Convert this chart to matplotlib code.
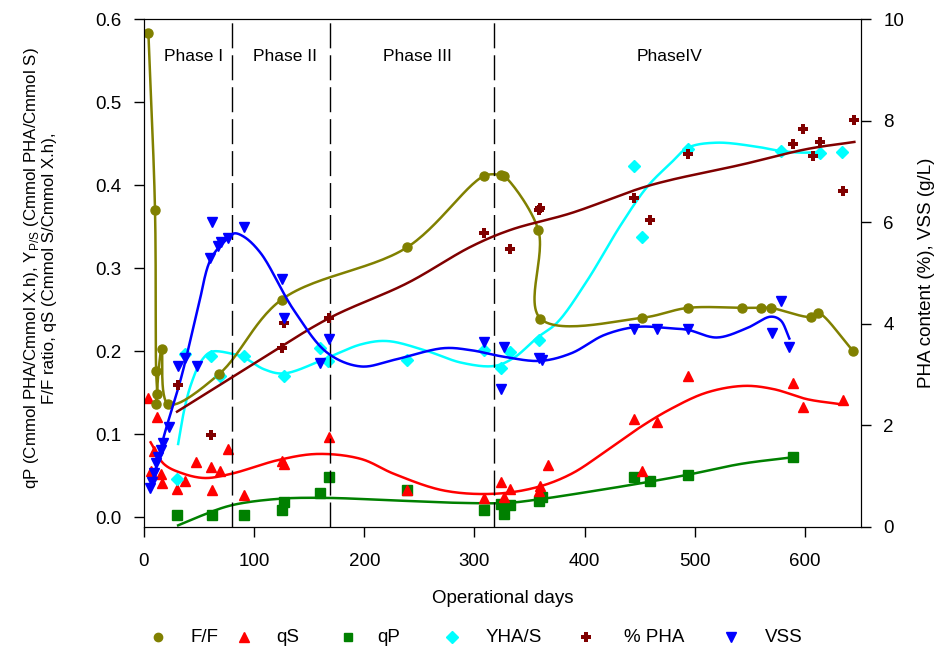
import numpy as np
import matplotlib
matplotlib.use('Agg')
import matplotlib.pyplot as plt
from matplotlib.lines import Line2D

plt.rcParams['font.family'] = ['Liberation Sans', 'DejaVu Sans']

# ---- measured data (left axis) ----
ff_days = [4, 10, 11, 12, 11, 16, 22, 68, 125, 239, 309, 324, 327, 358, 360, 452, 494, 543, 560, 569, 606, 612, 644]
ff_vals = [0.583, 0.370, 0.176, 0.148, 0.136, 0.202, 0.136, 0.172, 0.262, 0.325, 0.411, 0.412, 0.411, 0.346,
           0.239, 0.240, 0.252, 0.252, 0.252, 0.252, 0.241, 0.246, 0.200]

qs_days = [4, 6, 9, 12, 15, 16, 30, 37, 47, 61, 62, 69, 76, 91, 125, 127, 168, 239, 309, 324, 327, 332,
           359, 360, 367, 445, 452, 466, 494, 589, 598, 635]
qs_vals = [0.143, 0.056, 0.080, 0.121, 0.052, 0.041, 0.034, 0.043, 0.066, 0.060, 0.032, 0.056, 0.082, 0.026,
           0.068, 0.064, 0.097, 0.033, 0.023, 0.042, 0.024, 0.034, 0.031, 0.037, 0.063, 0.118, 0.056, 0.114,
           0.170, 0.161, 0.132, 0.141]

qp_days = [30, 62, 91, 125, 127, 160, 168, 239, 309, 324, 327, 332, 359, 361, 445, 459, 494, 589]
qp_vals = [0.002, 0.002, 0.002, 0.009, 0.018, 0.029, 0.048, 0.032, 0.008, 0.016, 0.004, 0.014, 0.019,
           0.024, 0.048, 0.043, 0.051, 0.072]

yps_days = [30, 37, 61, 69, 91, 127, 160, 167, 239, 309, 324, 332, 359, 445, 452, 494, 578, 614, 634]
yps_vals = [0.046, 0.197, 0.194, 0.170, 0.194, 0.170, 0.204, 0.188, 0.189, 0.201, 0.180, 0.199, 0.213,
            0.423, 0.337, 0.443, 0.441, 0.438, 0.440]

# ---- measured data (right axis) ----
pha_days = [31, 61, 125, 127, 168, 309, 332, 359, 360, 445, 459, 494, 589, 598, 607, 614, 635, 645]
pha_vals = [2.80, 1.81, 3.52, 4.01, 4.12, 5.79, 5.47, 6.24, 6.27, 6.48, 6.04, 7.34, 7.54, 7.83, 7.31,
            7.58, 6.61, 8.02]

vss_days = [5, 7, 9, 11, 13, 15, 17, 23, 31, 37, 48, 60, 62, 67, 70, 76, 91, 125, 127, 160, 168,
            309, 324, 327, 359, 361, 445, 466, 494, 570, 578, 586]
vss_vals = [0.76, 0.89, 1.06, 1.25, 1.38, 1.52, 1.66, 1.97, 3.16, 3.32, 3.16, 5.30, 6.00, 5.53, 5.61,
            5.68, 5.90, 4.88, 4.11, 3.22, 3.71, 3.64, 2.71, 3.54, 3.32, 3.29, 3.89, 3.89, 3.89, 3.82,
            4.45, 3.55]

# ---- trend curves ----
qs_fit_days = [6, 18, 34, 55, 79, 123, 158, 197, 227, 272, 318, 357, 388, 418, 448, 478, 511, 545, 572, 602, 632]
qs_fit_vals = [0.090, 0.064, 0.053, 0.047, 0.052, 0.069, 0.076, 0.070, 0.052, 0.032, 0.028, 0.036, 0.052,
               0.078, 0.106, 0.130, 0.150, 0.158, 0.154, 0.142, 0.136]

qp_fit_days = [31, 49, 79, 123, 167, 227, 288, 330, 357, 402, 448, 494, 542, 589]
qp_fit_vals = [-0.010, 0.000, 0.014, 0.022, 0.023, 0.020, 0.017, 0.017, 0.021, 0.030, 0.040, 0.051, 0.064, 0.072]

yps_fit_days = [31, 37, 43, 52, 61, 79, 91, 109, 127, 167, 197, 221, 257, 288, 318, 336, 357, 375, 402,
                433, 457, 478, 494, 520, 557, 578, 598, 616]
yps_fit_vals = [0.088, 0.132, 0.161, 0.188, 0.199, 0.197, 0.192, 0.178, 0.173, 0.192, 0.208, 0.212, 0.200,
                0.186, 0.182, 0.192, 0.216, 0.234, 0.284, 0.352, 0.398, 0.426, 0.445, 0.451, 0.446, 0.441,
                0.439, 0.440]

pha_fit_days = [30, 106, 168, 239, 297, 333, 388, 451, 478, 542, 602, 645]
pha_fit_vals = [2.27, 3.30, 4.11, 4.80, 5.52, 5.85, 6.18, 6.67, 6.83, 7.13, 7.44, 7.58]

vss_fit_days = [6, 18, 34, 49, 61, 76, 82, 91, 106, 136, 167, 197, 227, 272, 297, 327, 360, 388, 418,
                448, 478, 494, 520, 547, 569, 578, 586]
vss_fit_vals = [0.73, 1.78, 2.96, 4.31, 5.29, 5.68, 5.78, 5.71, 5.39, 4.27, 3.42, 3.16, 3.29, 3.52, 3.48,
                3.35, 3.27, 3.42, 3.78, 3.94, 3.91, 3.88, 3.73, 3.91, 4.14, 4.07, 3.71]

phase_bounds = [80, 169, 318]
phase_names = ['Phase I', 'Phase II', 'Phase III', 'PhaseIV']
phase_label_days = [45, 128, 248, 477]


def smooth(xs, ys, sx, sy, n=30):
    # centripetal Catmull-Rom through the given points (in pixel-like units)
    p = np.column_stack([np.asarray(xs, float) * sx, np.asarray(ys, float) * sy])
    p = np.vstack([2 * p[0] - p[1], p, 2 * p[-1] - p[-2]])
    out = []
    for i in range(1, len(p) - 2):
        p0, p1, p2, p3 = p[i - 1], p[i], p[i + 1], p[i + 2]
        t0 = 0.0
        t1 = t0 + max(np.hypot(*(p1 - p0)), 1e-6) ** 0.5
        t2 = t1 + max(np.hypot(*(p2 - p1)), 1e-6) ** 0.5
        t3 = t2 + max(np.hypot(*(p3 - p2)), 1e-6) ** 0.5
        t = np.linspace(t1, t2, n)[:, None]
        a1 = (t1 - t) / (t1 - t0) * p0 + (t - t0) / (t1 - t0) * p1
        a2 = (t2 - t) / (t2 - t1) * p1 + (t - t1) / (t2 - t1) * p2
        a3 = (t3 - t) / (t3 - t2) * p2 + (t - t2) / (t3 - t2) * p3
        b1 = (t2 - t) / (t2 - t0) * a1 + (t - t0) / (t2 - t0) * a2
        b2 = (t3 - t) / (t3 - t1) * a2 + (t - t1) / (t3 - t1) * a3
        out.append((t2 - t) / (t2 - t1) * b1 + (t - t1) / (t2 - t1) * b2)
    c = np.vstack(out)
    return c[:, 0] / sx, c[:, 1] / sy


SX, SYL, SYR = 1.1, 830.0, 50.8

c_ff, c_qs, c_qp, c_yps, c_pha, c_vss = '#808000', '#ff0000', '#008000', '#00ffff', '#800000', '#0000ff'

fig = plt.figure(figsize=(9.43, 6.51), dpi=100)
ax = fig.add_axes([0.1527, 0.1905, 0.9130 - 0.1527, 0.9708 - 0.1905])
ax2 = ax.twinx()

lw = 1.8
ax.plot(*smooth(qs_fit_days, qs_fit_vals, SX, SYL), color=c_qs, lw=lw)
ax.plot(*smooth(qp_fit_days, qp_fit_vals, SX, SYL), color=c_qp, lw=lw)
ax.plot(*smooth(yps_fit_days, yps_fit_vals, SX, SYL), color=c_yps, lw=lw)
ax.plot(*smooth(ff_days, ff_vals, SX, SYL), color=c_ff, lw=lw)

ax.plot(qp_days, qp_vals, ls='none', marker='s', ms=6.5, color=c_qp)
ax.plot(qs_days, qs_vals, ls='none', marker='^', ms=7.5, color=c_qs)
ax.plot(yps_days, yps_vals, ls='none', marker='D', ms=6.5, color=c_yps)
ax.plot(ff_days, ff_vals, ls='none', marker='o', ms=6.5, color=c_ff)

ax2.plot(*smooth(pha_fit_days, pha_fit_vals, SX, SYR), color=c_pha, lw=lw)
ax2.plot(*smooth(vss_fit_days, vss_fit_vals, SX, SYR), color=c_vss, lw=lw)
ax2.plot(pha_days, pha_vals, ls='none', marker='P', ms=7, color=c_pha, mew=0)
ax2.plot(vss_days, vss_vals, ls='none', marker='v', ms=7.5, color=c_vss)

for d in phase_bounds:
    ax.axvline(d, color='black', lw=1, dashes=(18, 5))
for name, d in zip(phase_names, phase_label_days):
    ax.text(d, 0.555, name, ha='center', va='center', fontsize=12.5)

ax.set_xlim(0, 651)
ax.set_ylim(-0.012, 0.6)
ax2.set_ylim(0, 10)
ax.set_xticks(np.arange(0, 700, 100))
ax.set_yticks(np.arange(0, 0.61, 0.1))
ax.set_yticklabels(['%.1f' % v for v in np.arange(0, 0.61, 0.1)])
ax2.set_yticks(np.arange(0, 11, 2))

ax.tick_params(direction='out', length=7, width=1, labelsize=13.5, pad=9)
ax.tick_params(axis='x', pad=12)
ax2.tick_params(direction='out', length=7, width=1, labelsize=13.5, pad=9)

ax.set_xlabel('Operational days', fontsize=13.5, labelpad=14)
ax.set_ylabel('qP (Cmmol PHA/Cmmol X.h), Y$_{\\mathregular{P/S}}$ (Cmmol PHA/Cmmol S)\n'
              'F/F ratio, qS (Cmmol S/Cmmol X.h),',
              fontsize=12.2, linespacing=1.1)
ax.yaxis.set_label_coords(-0.121, 0.51)
ax2.set_ylabel('PHA content (%), VSS (g/L)', fontsize=13.5, labelpad=10)

# legend entries laid out one by one along the bottom
legend_items = [
    ('F/F', 'o', 6, c_ff),
    ('qS', '^', 7, c_qs),
    ('qP', 's', 6, c_qp),
    ('YHA/S', 'D', 6.5, c_yps),
    ('% PHA', 'P', 7, c_pha),
    ('VSS', 'v', 7.5, c_vss),
]
marker_px = [158, 244, 348, 452, 586, 731]
text_px = [191, 276, 377, 486, 624, 765]
ly = 1 - 637 / 651
for (lab, mk, ms, col), mx, tx in zip(legend_items, marker_px, text_px):
    fig.add_artist(Line2D([mx / 943], [ly], transform=fig.transFigure, ls='none',
                          marker=mk, ms=ms, color=col, mew=0 if mk == 'P' else 1))
    fig.text(tx / 943, ly, lab, ha='left', va='center', fontsize=13.5)

plt.savefig('out.png', dpi=100)
